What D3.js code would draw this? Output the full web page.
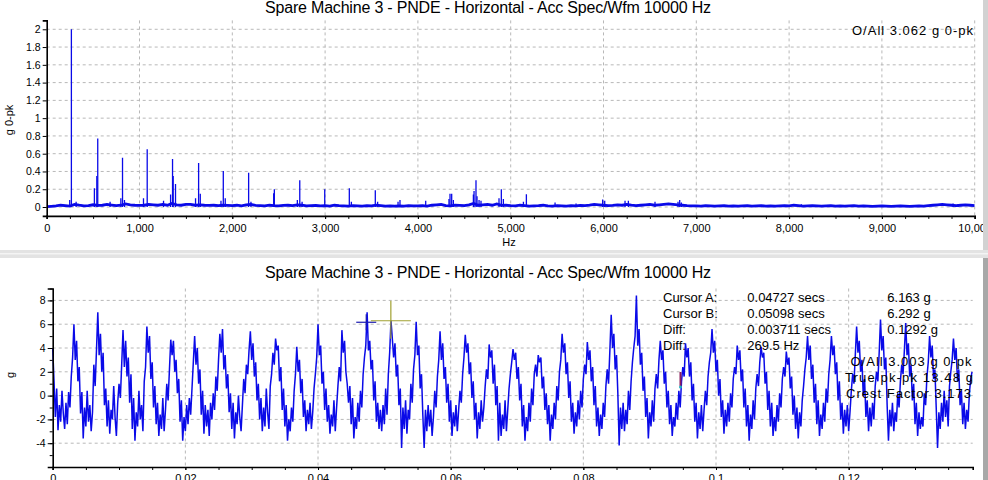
<!DOCTYPE html>
<html><head><meta charset="utf-8">
<script src="https://cdn.jsdelivr.net/npm/d3@7"></script>
<style>
body{margin:0;background:#fff;overflow:hidden}
svg{display:block}
text{font-family:"Liberation Sans",Arial,sans-serif;fill:#000}
</style></head>
<body><svg id="c" width="988" height="480"></svg>
<script>
// ---------- data ----------
const chartTitle = "Spare Machine 3 - PNDE - Horizontal - Acc Spec/Wfm 10000 Hz";
const specXTicks = [0,1000,2000,3000,4000,5000,6000,7000,8000,9000,10000];
const specYTicks = [0,0.2,0.4,0.6,0.8,1,1.2,1.4,1.6,1.8,2];
const specFloorStep = 50; // Hz between floor samples
const specFloor = [
0.005,0.008,0.012,0.02,0.015,0.01,0.03,0.02,0.012,0.015,
0.025,0.018,0.02,0.03,0.022,0.015,0.02,0.035,0.025,0.02,
0.018,0.02,0.03,0.025,0.02,0.03,0.02,0.04,0.025,0.02,
0.03,0.03,0.02,0.025,0.02,0.018,0.02,0.015,0.02,0.018,
0.015,0.02,0.012,0.025,0.03,0.018,0.015,0.012,0.02,0.015,
0.012,0.018,0.02,0.015,0.025,0.02,0.012,0.015,0.018,0.012,
0.015,0.01,0.02,0.015,0.012,0.01,0.015,0.012,0.01,0.015,
0.012,0.02,0.015,0.01,0.012,0.01,0.012,0.01,0.015,0.012,
0.012,0.015,0.01,0.02,0.025,0.03,0.015,0.012,0.02,0.018,
0.015,0.025,0.04,0.02,0.025,0.03,0.02,0.035,0.018,0.02,
0.015,0.012,0.02,0.015,0.01,0.012,0.015,0.02,0.012,0.01,
0.015,0.012,0.01,0.015,0.012,0.018,0.015,0.02,0.03,0.025,
0.02,0.015,0.018,0.025,0.02,0.03,0.02,0.015,0.02,0.025,
0.03,0.02,0.025,0.03,0.035,0.03,0.025,0.02,0.015,0.012,
0.012,0.01,0.015,0.012,0.01,0.012,0.015,0.01,0.012,0.01,
0.012,0.015,0.01,0.012,0.015,0.01,0.012,0.01,0.012,0.015,
0.012,0.02,0.015,0.01,0.012,0.015,0.012,0.01,0.012,0.015,
0.01,0.012,0.01,0.012,0.015,0.01,0.012,0.01,0.008,0.01,
0.012,0.01,0.008,0.01,0.012,0.01,0.008,0.01,0.012,0.01,
0.015,0.02,0.025,0.03,0.025,0.02,0.015,0.02,0.025,0.02,
0.015];
const specPeakHz = [248,266,317,514,540,550,683,799,817,838,1043,1083,1259,1335,1356,1363,1388,1604,1637,1655,1878,1903,1924,2176,2201,2446,2453,2701,2727,2752,2996,3261,3283,3541,3566,3786,3807,4084,4335,4346,4364,4382,4598,4605,4626,4637,4659,4680,4874,4899,4921,5137,5169,5478,5704,5991,6013,6232,6268,6555,6803,6821,6839,8132,9767,9821];
const specPeakAmp = [0.08,2.0,0.06,0.21,0.35,0.77,0.06,0.1,0.555,0.08,0.1,0.65,0.07,0.14,0.54,0.35,0.26,0.1,0.495,0.15,0.07,0.405,0.1,0.385,0.06,0.155,0.2,0.08,0.3,0.06,0.2,0.21,0.06,0.19,0.06,0.06,0.08,0.07,0.09,0.15,0.15,0.08,0.14,0.18,0.3,0.12,0.08,0.07,0.1,0.2,0.09,0.06,0.145,0.05,0.04,0.085,0.07,0.07,0.07,0.06,0.06,0.08,0.05,0.03,0.04,0.03];
const specOverall = "O/All 3.062 g 0-pk";

const wfStep = 0.0002; // seconds between samples
const wfValues = [
4.0,1.2,-1.8,0.6,-2.9,-0.8,-2.2,0.4,-1.5,-2.8,-0.6,-2.4,0.3,-1.0,1.6,3.2,6.0,
3.0,4.6,1.2,2.4,-1.5,0.3,-3.6,-1.0,-2.6,0.4,-2.2,-0.8,-3.0,-1.4,2.6,0.8,3.8,7.0,
3.4,5.2,2.0,3.6,-0.8,0.6,-2.6,-0.4,-3.2,-1.2,-2.0,0.8,-1.8,-3.4,-0.6,1.0,-0.2,2.6,5.5,
2.4,4.6,1.6,3.2,-0.6,1.8,-2.8,-0.2,-3.8,-1.4,-2.6,0.4,-2.0,-0.8,-3.0,1.2,2.4,5.8,
3.6,5.0,1.4,2.8,-1.0,0.8,-2.4,-0.6,-3.4,-1.6,-2.8,-0.2,-3.0,-1.2,1.0,-0.4,2.2,4.7,
3.4,4.6,2.0,3.0,0.2,1.4,-2.2,-0.4,-3.8,-1.8,-3.0,-0.8,-2.4,-0.2,-1.6,0.6,2.8,5.0,
2.6,4.0,1.0,2.2,-1.6,0.4,-3.2,-0.8,-2.6,-1.2,-3.4,-0.6,-2.0,0.2,-1.2,1.6,0.4,3.0,5.2,3.6,5.6,
2.2,3.4,0.6,1.8,-1.4,0.2,-2.8,-0.6,-3.6,-1.4,-2.4,0.0,-1.8,-3.0,-0.8,1.4,0.2,2.6,1.8,3.8,5.4,
3.0,4.4,1.6,2.8,-0.4,1.0,-2.0,-0.2,-3.0,-1.0,-2.6,0.6,-1.4,-2.8,0.8,1.8,3.6,2.6,4.8,
3.8,4.2,1.2,2.4,-1.2,0.6,-2.6,-0.8,-3.8,-2.0,-3.0,-1.0,-2.2,0.4,1.8,4.1,
2.0,3.0,0.2,1.4,-1.8,-0.4,-3.0,-1.2,-2.4,-0.6,-2.8,-1.4,0.6,1.8,3.2,6.0,
3.4,4.2,1.0,2.0,-1.2,0.6,-2.2,-0.8,-3.2,-1.6,-2.6,-0.4,-3.0,-1.0,0.8,2.4,1.2,5.5,
3.6,4.6,2.0,1.0,-0.6,0.8,-2.4,-0.2,-3.6,-1.8,-2.8,-0.6,-2.2,0.4,-1.0,1.8,3.2,4.2,7.0,
3.8,4.6,2.2,3.0,-0.4,1.2,-2.2,-0.6,-2.8,-1.2,-3.0,-0.8,-2.4,0.6,-1.6,1.8,3.6,6.3,4.8,
3.2,4.4,1.6,2.6,-0.8,0.6,-4.4,-1.0,-2.8,-0.4,-3.2,-1.2,-2.0,1.0,-0.6,2.2,3.4,6.2,
3.4,4.2,0.6,1.8,-1.6,-4.4,-1.2,-3.0,-0.8,-2.6,-1.2,-3.4,-1.8,0.4,-1.0,1.6,3.0,5.4,
3.0,4.4,1.4,2.4,-0.6,1.0,-2.2,-0.4,-3.4,-1.4,-2.6,-0.8,-3.0,-1.2,0.4,-0.6,1.8,3.2,5.1,
3.6,4.4,1.8,2.8,-0.2,1.2,-2.0,-0.6,-3.6,-1.4,-2.8,-0.4,-2.2,-1.0,0.8,2.2,1.4,4.3,
3.2,3.8,1.0,2.6,-0.8,0.8,-3.8,-0.6,-3.4,-1.6,-2.8,-0.4,-3.0,-1.2,0.6,1.8,2.8,3.9,
3.0,3.6,1.4,2.4,-0.4,1.0,-2.6,-0.8,-3.8,-1.8,-3.0,-0.6,-2.2,0.6,-0.8,1.8,2.6,1.6,3.4,
2.8,3.2,0.6,1.6,-1.2,0.2,-2.4,-0.8,-3.8,-1.6,-2.8,-0.6,-2.0,0.8,-0.4,2.0,3.0,5.2,
3.6,4.4,1.8,2.8,-0.2,1.2,-2.2,-0.6,-3.2,-1.4,-2.6,-0.4,-2.0,0.4,-1.0,1.4,2.6,1.8,4.5,
3.0,3.8,1.2,2.4,-0.8,0.8,-2.6,-1.0,-3.4,-1.6,-2.8,-0.6,-1.8,0.8,2.2,1.0,3.8,6.8,
4.0,5.2,2.2,3.4,0.2,-4.2,-1.0,-2.8,-0.6,-3.0,-1.2,-2.4,0.4,-1.2,1.2,2.8,4.0,5.0,8.4,
4.2,5.6,2.6,3.6,0.4,1.6,-1.8,-0.2,-3.6,-1.4,-2.6,-0.4,-2.2,0.6,1.8,0.6,3.0,4.6,
3.0,3.8,1.0,2.0,-1.0,0.4,-2.4,-0.8,-3.4,-1.8,-2.6,-0.6,-2.0,0.4,-1.0,1.2,2.4,1.6,4.4,
3.2,4.0,1.6,2.8,-0.4,1.0,-2.2,-0.6,-3.6,-1.4,-2.8,-0.8,-3.0,-1.2,0.4,-0.8,1.6,2.8,3.6,5.6,
3.6,4.6,2.0,3.0,0.0,1.4,-1.8,-0.4,-3.2,-1.2,-2.6,-0.6,-2.2,0.2,-1.0,1.4,2.4,1.8,4.2,
3.0,3.8,1.2,2.2,-1.0,0.6,-2.6,-0.8,-3.8,-1.6,-2.8,-0.4,-2.0,0.6,1.8,0.8,2.8,4.1,
3.2,3.6,1.0,2.0,-1.2,0.4,-2.6,-0.6,-3.4,-1.8,-3.0,-0.8,-2.2,0.2,-1.0,1.4,2.4,1.6,3.7,
2.6,3.2,0.6,1.6,-1.6,0.0,-2.8,-1.0,-3.6,-1.4,-2.6,-0.4,0.8,2.2,3.2,5.0,
3.0,4.2,1.4,2.6,-0.6,1.0,-2.4,-0.4,-3.4,-1.6,-2.8,-0.6,-2.2,0.6,-0.6,1.8,3.0,5.0,
3.4,4.2,1.8,2.8,-0.4,1.2,-2.0,-0.6,-3.2,-1.2,-2.6,-0.8,-3.0,-1.4,0.4,1.8,1.0,3.4,5.8,
3.6,4.6,2.0,3.0,0.0,1.4,-1.8,-0.4,-3.0,-1.0,-2.6,-0.6,-2.0,0.8,2.0,1.2,3.6,6.4,
3.8,5.0,2.2,3.2,-0.8,-3.8,-1.2,-2.6,-0.6,-3.0,-1.4,-2.2,0.2,-1.0,1.2,2.6,1.8,3.8,6.1,
3.4,4.4,1.6,2.6,-0.4,1.0,-2.4,-0.6,-3.4,-1.4,-2.8,-1.8,-2.6,0.2,-0.8,1.6,2.8,5.0,
3.2,4.2,1.4,2.2,-1.0,-4.4,-1.4,-2.8,-0.6,-2.2,0.4,-1.8,-0.4,-2.6,0.8,2.0,3.0,4.8,
3.0,4.0,1.2,2.2,-0.8,0.4,-2.4,-0.6,-2.8,-1.2,-2.2,0.2,1.4,2.0];
const wfXTicks = [0,0.02,0.04,0.06,0.08,0.1,0.12];
const wfYTicks = [-4,-2,0,2,4,6,8];
const cursorLabels = ["Cursor A:","Cursor B:","Diff:","Diff:"];
const cursorCol2 = ["0.04727 secs","0.05098 secs","0.003711 secs","269.5 Hz"];
const cursorCol3 = ["6.163 g","6.292 g","0.1292 g",""];
const cursorATime = 0.04727, cursorAVal = 6.163;
const cursorBTime = 0.05098, cursorBVal = 6.292;
const wfStats = ["O/All 3.003 g 0-pk","True pk-pk 13.48 g","Crest Factor 3.173"];

// ---------- drawing ----------
const svg = d3.select("#c");
const blue = "#0a0ae8";
const gridCol = "#b8b8b8";
const fmtComma = d3.format(",");

function styleAxis(g){
  g.select(".domain").attr("stroke","#000").attr("stroke-width",1.6);
  g.selectAll(".tick line").attr("stroke","#000");
  g.selectAll(".tick text").style("font-size","10.5px").attr("fill","#000");
}

// ===== Top: spectrum =====
const sx = d3.scaleLinear().domain([0,10000]).range([46.7,974.7]);
const sy = d3.scaleLinear().domain([-0.1,2.1]).range([215.9,20.4]);
const topG = svg.append("g");
topG.append("text").attr("x",488).attr("y",13).attr("text-anchor","middle")
  .style("font-size","16px").attr("textLength",446).text(chartTitle);

// grid
topG.append("g").selectAll("line").data(specYTicks).join("line")
  .attr("x1",sx(0)).attr("x2",sx(10000)).attr("y1",d=>sy(d)).attr("y2",d=>sy(d))
  .attr("stroke",gridCol).attr("stroke-dasharray","3,3");
topG.append("g").selectAll("line").data(specXTicks.slice(1)).join("line")
  .attr("x1",d=>sx(d)).attr("x2",d=>sx(d)).attr("y1",sy(2.1)).attr("y2",sy(-0.1))
  .attr("stroke",gridCol).attr("stroke-dasharray","3,3");

// floor + peaks
svg.append("clipPath").attr("id","ct").append("rect")
  .attr("x",sx(0)).attr("y",sy(2.1)).attr("width",sx(10000)-sx(0)).attr("height",sy(-0.1)-sy(2.1));
const specG = topG.append("g").attr("clip-path","url(#ct)");
specG.append("path").datum(specFloor)
  .attr("d", d3.line().x((d,i)=>sx(i*specFloorStep)).y(d=>sy(d)))
  .attr("fill","none").attr("stroke",blue).attr("stroke-width",2.8);
specG.selectAll("line.pk").data(specPeakHz).join("line").attr("class","pk")
  .attr("x1",d=>sx(d)).attr("x2",d=>sx(d))
  .attr("y1",sy(0)).attr("y2",(d,i)=>sy(specPeakAmp[i]))
  .attr("stroke",blue).attr("stroke-width",1.3);

// axes
const syAxis = topG.append("g").attr("transform",`translate(${sx(0)},0)`)
  .call(d3.axisLeft(sy).tickValues(specYTicks).tickSize(4).tickPadding(2).tickFormat(d=>d));
styleAxis(syAxis);
const sxMinor = d3.range(0,10001,250);
const sxMinorAxis = topG.append("g").attr("transform",`translate(0,${sy(-0.1)})`)
  .call(d3.axisBottom(sx).tickValues(sxMinor).tickSize(3).tickFormat(""));
sxMinorAxis.select(".domain").remove();
sxMinorAxis.selectAll("line").attr("stroke","#000");
const sxAxis = topG.append("g").attr("transform",`translate(0,${sy(-0.1)})`)
  .call(d3.axisBottom(sx).tickValues(specXTicks).tickSize(3).tickPadding(5).tickFormat(d=>fmtComma(d)));
styleAxis(sxAxis);
sxAxis.selectAll(".tick text").style("font-size","11px");

topG.append("text").attr("x",509).attr("y",246).attr("text-anchor","middle").style("font-size","11px").text("Hz");
topG.append("text").attr("transform","translate(13,120) rotate(-90)").attr("text-anchor","middle")
  .style("font-size","11px").text("g 0-pk");
topG.append("text").attr("x",973).attr("y",35).attr("text-anchor","end")
  .style("font-size","13px").attr("textLength",121).text(specOverall);

// ===== Bottom: waveform =====
const wx = d3.scaleLinear().domain([0,0.1387]).range([52.7,972.7]);
const wy = d3.scaleLinear().domain([-6,9]).range([467,288.5]);
const botG = svg.append("g");
botG.append("text").attr("x",488).attr("y",278).attr("text-anchor","middle")
  .style("font-size","16px").attr("textLength",446).text(chartTitle);

botG.append("g").selectAll("line").data(wfYTicks).join("line")
  .attr("x1",wx(0)).attr("x2",wx(0.1387)).attr("y1",d=>wy(d)).attr("y2",d=>wy(d))
  .attr("stroke",gridCol).attr("stroke-dasharray","3,3");
botG.append("g").selectAll("line").data(wfXTicks.slice(1)).join("line")
  .attr("x1",d=>wx(d)).attr("x2",d=>wx(d)).attr("y1",wy(9)).attr("y2",wy(-6))
  .attr("stroke",gridCol).attr("stroke-dasharray","3,3");

botG.append("path").datum(wfValues)
  .attr("d", d3.line().x((d,i)=>wx(i*wfStep)).y(d=>wy(d)))
  .attr("fill","none").attr("stroke",blue).attr("stroke-width",1.5).attr("stroke-linejoin","miter");

// axes
const wyMinor = botG.append("g").attr("transform",`translate(${wx(0)},0)`)
  .call(d3.axisLeft(wy).tickValues(d3.range(-6,10,1)).tickSize(3).tickFormat(""));
wyMinor.select(".domain").remove(); wyMinor.selectAll("line").attr("stroke","#000");
const wyAxis = botG.append("g").attr("transform",`translate(${wx(0)},0)`)
  .call(d3.axisLeft(wy).tickValues(wfYTicks).tickSize(5).tickPadding(2).tickFormat(d=>d));
styleAxis(wyAxis);
const wxMinor = botG.append("g").attr("transform",`translate(0,${wy(-6)})`)
  .call(d3.axisBottom(wx).tickValues(d3.range(0,0.1387,0.005)).tickSize(3).tickFormat(""));
wxMinor.select(".domain").remove(); wxMinor.selectAll("line").attr("stroke","#000");
const wxAxis = botG.append("g").attr("transform",`translate(0,${wy(-6)})`)
  .call(d3.axisBottom(wx).tickValues(wfXTicks).tickSize(3).tickPadding(4).tickFormat(d=>d));
styleAxis(wxAxis);
wxAxis.selectAll(".tick text").style("font-size","11px");

botG.append("text").attr("transform","translate(14,375) rotate(-90)").attr("text-anchor","middle")
  .style("font-size","11px").text("g");

// cursors
const ax = wx(cursorATime), ay = wy(cursorAVal);
botG.append("line").attr("x1",ax-10).attr("x2",ax+10).attr("y1",ay).attr("y2",ay).attr("stroke","#1a1ab0").attr("stroke-width",1.2);
botG.append("line").attr("x1",ax).attr("x2",ax).attr("y1",ay-8).attr("y2",ay+8).attr("stroke","#1a1ab0").attr("stroke-width",1.2);
const bx = wx(cursorBTime), by = wy(cursorBVal);
botG.append("line").attr("x1",bx-20).attr("x2",bx+20).attr("y1",by).attr("y2",by).attr("stroke","#a0a030").attr("stroke-width",1.2);
botG.append("line").attr("x1",bx).attr("x2",bx).attr("y1",by-20).attr("y2",by+18).attr("stroke","#a0a030").attr("stroke-width",1.2);
// small marker
botG.append("line").attr("x1",680.5).attr("x2",680.5).attr("y1",372).attr("y2",386).attr("stroke","#8a1f5c").attr("stroke-width",2);
botG.append("circle").attr("cx",680.5).attr("cy",387).attr("r",1.5).attr("fill","#20b0c0");

// cursor text
const rowsY = [302,318,334,350];
botG.selectAll("text.c1").data(cursorLabels).join("text").attr("class","c1")
  .attr("x",663).attr("y",(d,i)=>rowsY[i]).style("font-size","13px").text(d=>d);
botG.selectAll("text.c2").data(cursorCol2).join("text").attr("class","c2")
  .attr("x",747.3).attr("y",(d,i)=>rowsY[i]).style("font-size","13px").text(d=>d);
botG.selectAll("text.c3").data(cursorCol3).join("text").attr("class","c3")
  .attr("x",887.3).attr("y",(d,i)=>rowsY[i]).style("font-size","13px").text(d=>d);
const statY = [366,382,398], statW = [121,128,125], statX=[971.5,973,971];
botG.selectAll("text.st").data(wfStats).join("text").attr("class","st")
  .attr("x",(d,i)=>statX[i]).attr("y",(d,i)=>statY[i]).attr("text-anchor","end")
  .style("font-size","13px").attr("textLength",(d,i)=>statW[i]).text(d=>d);

// separators / frame (drawn last, over the panel edges)
svg.append("rect").attr("x",0).attr("y",250).attr("width",988).attr("height",8).attr("fill","#e3e3e3");
svg.append("rect").attr("x",0).attr("y",253).attr("width",988).attr("height",1.5).attr("fill","#f4f4f4");
svg.append("rect").attr("x",983).attr("y",0).attr("width",5).attr("height",250).attr("fill","#d2d2d2");
svg.append("rect").attr("x",983).attr("y",258).attr("width",5).attr("height",222).attr("fill","#a8a8a8");
</script>
</body></html>
